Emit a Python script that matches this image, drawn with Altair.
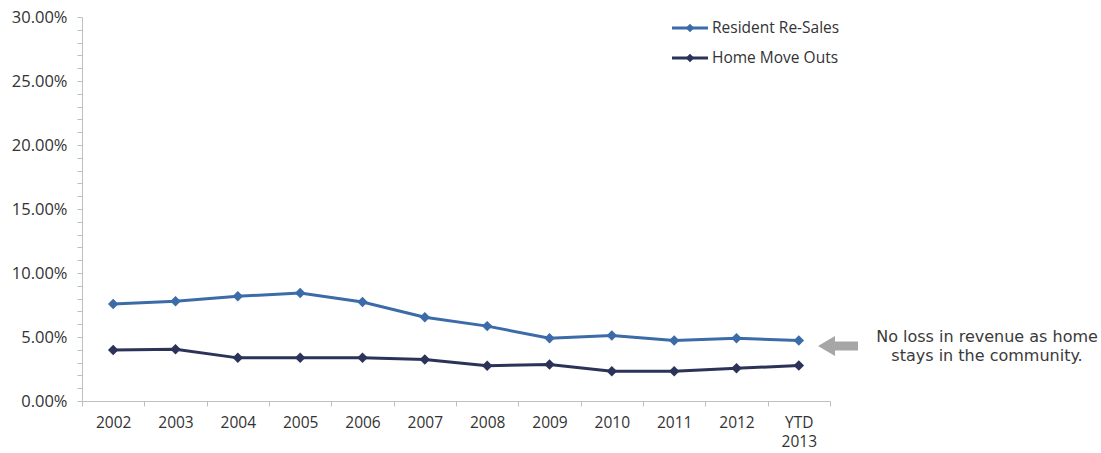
import altair as alt
import pandas as pd

categories = ["2002", "2003", "2004", "2005", "2006", "2007", "2008", "2009", "2010", "2011", "2012", "YTD 2013"]
resident_resales = [0.0758, 0.0780, 0.0818, 0.0843, 0.0773, 0.0655, 0.0585, 0.0490, 0.0512, 0.0473, 0.0490, 0.0473]
home_move_outs = [0.0398, 0.0405, 0.0337, 0.0337, 0.0337, 0.0325, 0.0275, 0.0285, 0.0233, 0.0233, 0.0255, 0.0278]
series_names = ["Resident Re-Sales", "Home Move Outs"]
series_colors = ["#3b6ba8", "#2b3358"]
y_ticks = [i / 100 for i in range(0, 31)]
annotation_lines = ["No loss in revenue as home", "stays in the community."]

rows = []
for name, vals in zip(series_names, [resident_resales, home_move_outs]):
    for c, v in zip(categories, vals):
        rows.append({"cat": c, "val": v, "series": name})
df = pd.DataFrame(rows)

W, H = 748, 384
FONT = "Open Sans"

x_enc = alt.X("cat:N", sort=categories, title=None,
              scale=alt.Scale(paddingInner=0, paddingOuter=0),
              axis=alt.Axis(labelAngle=0, tickBand="extent",
                            labelExpr="isValid(datum.value) ? split(datum.value, ' ') : ''",
                            labelFont=FONT, labelFontSize=15.5, labelColor="#333333",
                            domainColor="#bfbfbf", tickColor="#bfbfbf", tickSize=5,
                            labelPadding=9, labelLineHeight=19, grid=False))
y_enc = alt.Y("val:Q", title=None, scale=alt.Scale(domain=[0, 0.30], nice=False),
              axis=alt.Axis(values=y_ticks, labelOverlap=False,
                            labelExpr="round(datum.value*100) % 5 == 0 ? format(datum.value, '.2%') : ''",
                            labelFont=FONT, labelFontSize=16.5, labelColor="#333333",
                            domainColor="#bfbfbf", tickColor="#bfbfbf", tickSize=5,
                            labelPadding=10, grid=False))
color_scale = alt.Scale(domain=series_names, range=series_colors)
color_enc = alt.Color("series:N", sort=series_names, scale=color_scale, legend=None)

base = alt.Chart(df).encode(x=x_enc, y=y_enc, color=color_enc)
lines = base.mark_line(strokeWidth=3)
points = base.mark_point(shape="diamond", filled=True, size=110, opacity=1)

one = pd.DataFrame({"a": [1]})
layers = [lines, points]

# manual legend (one row per series)
for i, (name, col) in enumerate(zip(series_names, series_colors)):
    yy = 11 + 30 * i
    layers.append(alt.Chart(one).mark_rule(strokeWidth=3, color=col).encode(
        x=alt.value(590), x2=alt.value(626), y=alt.value(yy)))
    layers.append(alt.Chart(one).mark_point(shape="diamond", filled=True, size=70, opacity=1,
                                            color=col).encode(x=alt.value(608), y=alt.value(yy)))
    layers.append(alt.Chart(one).mark_text(text=name, font=FONT, fontSize=15.5, color="#333333",
                                           align="left", baseline="middle").encode(
        x=alt.value(630), y=alt.value(yy)))

for i, line in enumerate(annotation_lines):
    layers.append(alt.Chart(one).mark_text(text=line, font="DejaVu Sans", fontSize=16, color="#3a3a3a",
                                           align="center", baseline="middle").encode(
        x=alt.value(905), y=alt.value(320 + 19 * i)))

layers.append(alt.Chart(one).mark_point(
    shape="M-1,0L-0.15,-0.5L-0.15,-0.22L1,-0.22L1,0.22L-0.15,0.22L-0.15,0.5Z",
    filled=True, color="#a6a6a6", opacity=1, size=1600, strokeWidth=0).encode(
    x=alt.value(756), y=alt.value(329)))

chart = alt.layer(*layers).properties(
    width=W, height=H,
    background="white",
    autosize=alt.AutoSizeParams(type="none"),
    padding={"left": 82, "top": 17, "right": 1101 - 82 - W, "bottom": 453 - 17 - H},
).configure_view(stroke=None)

chart.save("out.html", embed_options={"renderer": "svg", "actions": False})
